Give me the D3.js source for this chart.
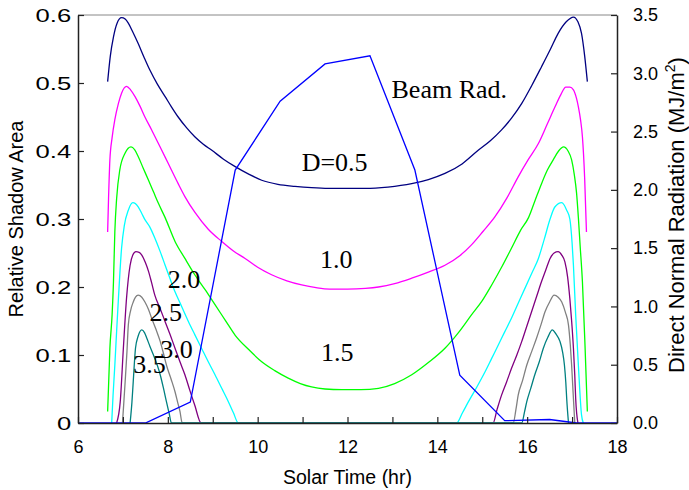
<!DOCTYPE html>
<html lang="en">
<head>
<meta charset="utf-8"/>
<title>Relative shadow area and beam radiation</title>
<script src="https://d3js.org/d3.v7.min.js"></script>
<style>
    body { margin: 0; background: #fff; }
    .tick text { font-family: "Liberation Sans", Arial, sans-serif; font-size: 18px; fill: #000; }
    .axis-title { font-family: "Liberation Sans", Arial, sans-serif; fill: #000; }
    .note { font-family: "Liberation Serif", "Times New Roman", serif; font-size: 26px; fill: #000; }
</style>
</head>
<body>
<script>

// relative shadow area, [solar time (hr), area], one array per spacing D
var d05 = [[6.66,0.502],[6.72,0.540],[6.79,0.568],[6.87,0.588],[6.97,0.596],[7.05,0.594],[7.12,0.588],[7.22,0.575],[7.34,0.558],[7.47,0.538],[7.60,0.519],[7.77,0.498],[7.94,0.480],[8.08,0.465],[8.23,0.450],[8.42,0.434],[8.60,0.421],[8.79,0.410],[8.98,0.401],[9.24,0.388],[9.50,0.377],[9.80,0.366],[10.09,0.357],[10.45,0.351],[10.83,0.348],[11.2,0.346],[11.57,0.345],[12.0,0.345],[12.4,0.345],[12.9,0.347],[13.43,0.352],[13.8,0.358],[14.17,0.367],[14.55,0.381],[14.91,0.401],[15.18,0.415],[15.43,0.431],[15.66,0.449],[15.88,0.470],[16.1,0.496],[16.32,0.524],[16.52,0.550],[16.69,0.573],[16.87,0.590],[17.03,0.597],[17.13,0.590],[17.21,0.573],[17.28,0.540],[17.34,0.502]];
var d10 = [[6.66,0.281],[6.68,0.330],[6.71,0.387],[6.76,0.420],[6.82,0.446],[6.90,0.470],[6.97,0.485],[7.08,0.495],[7.17,0.490],[7.27,0.480],[7.38,0.466],[7.49,0.450],[7.64,0.431],[7.79,0.411],[7.94,0.391],[8.08,0.372],[8.23,0.352],[8.38,0.333],[8.60,0.310],[8.90,0.285],[9.20,0.267],[9.46,0.253],[9.72,0.242],[10.0,0.229],[10.31,0.218],[10.65,0.209],[10.98,0.203],[11.3,0.199],[11.6,0.197],[12.0,0.197],[12.4,0.198],[12.69,0.200],[13.05,0.205],[13.43,0.213],[13.8,0.222],[14.17,0.232],[14.5,0.246],[14.76,0.262],[15.02,0.282],[15.28,0.303],[15.55,0.331],[15.80,0.362],[16.03,0.388],[16.25,0.411],[16.45,0.440],[16.62,0.465],[16.75,0.483],[16.86,0.494],[16.95,0.494],[17.03,0.490],[17.10,0.477],[17.14,0.465],[17.19,0.445],[17.23,0.421],[17.28,0.360],[17.32,0.281]];
var d15 = [[6.66,0.017],[6.71,0.110],[6.76,0.160],[6.79,0.208],[6.82,0.281],[6.86,0.330],[6.93,0.372],[7.05,0.397],[7.18,0.406],[7.26,0.402],[7.34,0.392],[7.45,0.375],[7.57,0.357],[7.68,0.340],[7.79,0.323],[7.94,0.302],[8.16,0.267],[8.38,0.242],[8.60,0.218],[8.83,0.196],[9.05,0.174],[9.28,0.151],[9.50,0.129],[9.80,0.108],[10.09,0.090],[10.38,0.077],[10.68,0.066],[10.95,0.058],[11.20,0.053],[11.5,0.050],[11.87,0.049],[12.3,0.049],[12.69,0.051],[13.05,0.058],[13.43,0.071],[13.8,0.089],[14.17,0.110],[14.47,0.133],[14.76,0.159],[15.0,0.180],[15.21,0.203],[15.43,0.229],[15.65,0.257],[15.85,0.283],[16.03,0.302],[16.18,0.328],[16.32,0.352],[16.45,0.372],[16.58,0.387],[16.70,0.400],[16.81,0.406],[16.91,0.400],[16.99,0.387],[17.05,0.365],[17.10,0.338],[17.14,0.302],[17.18,0.260],[17.23,0.208],[17.29,0.110],[17.34,0.017]];
var d20 = [[6.75,0.0],[6.78,0.040],[6.82,0.085],[6.86,0.135],[6.90,0.183],[6.97,0.257],[7.03,0.290],[7.12,0.313],[7.22,0.324],[7.34,0.318],[7.42,0.308],[7.49,0.299],[7.60,0.288],[7.71,0.272],[7.83,0.252],[7.94,0.232],[8.05,0.212],[8.16,0.193],[8.31,0.171],[8.46,0.149],[8.60,0.130],[8.75,0.110],[8.90,0.090],[9.05,0.071],[9.20,0.051],[9.35,0.031],[9.46,0.015],[9.57,0.0],[14.43,0.0],[14.56,0.015],[14.69,0.031],[14.88,0.053],[15.06,0.075],[15.21,0.095],[15.36,0.115],[15.50,0.134],[15.65,0.154],[15.80,0.176],[15.95,0.198],[16.10,0.220],[16.25,0.242],[16.38,0.270],[16.51,0.300],[16.62,0.318],[16.77,0.324],[16.88,0.313],[16.95,0.300],[17.00,0.265],[17.03,0.232],[17.08,0.159],[17.14,0.085],[17.21,0.012],[17.25,0.0]];
var d25 = [[6.86,0.0],[6.94,0.031],[7.01,0.110],[7.08,0.183],[7.16,0.232],[7.22,0.247],[7.29,0.252],[7.36,0.251],[7.42,0.247],[7.50,0.236],[7.57,0.223],[7.64,0.206],[7.71,0.188],[7.83,0.168],[7.94,0.149],[8.05,0.130],[8.16,0.110],[8.27,0.090],[8.38,0.071],[8.49,0.048],[8.60,0.026],[8.74,0.0],[15.24,0.0],[15.33,0.020],[15.43,0.041],[15.54,0.060],[15.65,0.080],[15.77,0.100],[15.88,0.120],[15.99,0.142],[16.10,0.164],[16.21,0.186],[16.32,0.208],[16.42,0.226],[16.51,0.242],[16.60,0.250],[16.69,0.252],[16.77,0.247],[16.84,0.237],[16.90,0.215],[16.95,0.183],[16.99,0.150],[17.03,0.110],[17.06,0.070],[17.08,0.036],[17.13,0.0]];
var d30 = [[6.99,0.0],[7.02,0.030],[7.05,0.061],[7.09,0.105],[7.12,0.144],[7.17,0.165],[7.23,0.178],[7.28,0.185],[7.34,0.188],[7.42,0.185],[7.49,0.178],[7.57,0.167],[7.64,0.154],[7.74,0.137],[7.83,0.120],[7.90,0.103],[7.97,0.085],[8.07,0.065],[8.16,0.046],[8.22,0.030],[8.27,0.017],[8.32,0.0],[15.69,0.0],[15.75,0.020],[15.80,0.041],[15.90,0.063],[15.99,0.085],[16.10,0.105],[16.21,0.125],[16.31,0.145],[16.40,0.164],[16.50,0.178],[16.60,0.188],[16.69,0.185],[16.77,0.178],[16.85,0.163],[16.92,0.144],[16.96,0.115],[16.99,0.085],[17.02,0.048],[17.05,0.012],[17.06,0.0]];
var d35 = [[7.16,0.0],[7.20,0.030],[7.23,0.061],[7.28,0.110],[7.34,0.128],[7.42,0.137],[7.48,0.133],[7.53,0.125],[7.60,0.113],[7.68,0.100],[7.76,0.086],[7.83,0.071],[7.90,0.052],[7.97,0.031],[8.03,0.014],[8.08,0.0],[15.88,0.0],[15.94,0.016],[15.99,0.031],[16.08,0.051],[16.17,0.071],[16.27,0.090],[16.36,0.110],[16.46,0.126],[16.56,0.137],[16.64,0.131],[16.73,0.120],[16.79,0.104],[16.83,0.085],[16.86,0.060],[16.88,0.036],[16.92,0.0]];

// direct normal (beam) radiation, MJ/m2, right axis
var beamHr  = [6, 7.5, 8.5, 9.5, 10.5, 11.5, 12.5, 13.5, 14.5, 15.5, 16.5, 17.1, 18];
var beamVal = [0, 0, 0.18, 2.17, 2.76, 3.08, 3.15, 2.17, 0.41, 0.02, 0.03, 0, 0];

var seriesNames = ["D=0.5", "1.0", "1.5", "2.0", "2.5", "3.0", "3.5"];
var seriesData = [d05, d10, d15, d20, d25, d30, d35];
var seriesColors = ["#000080", "#ff00ff", "#00ff00", "#00ffff", "#800080", "#808080", "#008080"];

// label anchors in data units [hr, area]
var labelPos = [[10.98, 0.371], [11.39, 0.228], [11.41, 0.091], [8.0, 0.199], [7.59, 0.150], [7.83, 0.096], [7.23, 0.073]];

var width = 689, height = 490;
var plotL = 78, plotR = 617, plotT = 15, plotB = 423;

var svg = d3.select("body").append("svg")
    .attr("width", width)
    .attr("height", height);

var x = d3.scaleLinear().domain([6, 18]).range([plotL, plotR]);
var yL = d3.scaleLinear().domain([0, 0.6]).range([plotB, plotT]);
var yR = d3.scaleLinear().domain([0, 3.5]).range([plotB, plotT]);

// frame top
svg.append("line")
    .attr("x1", plotL).attr("x2", plotR)
    .attr("y1", plotT).attr("y2", plotT)
    .attr("stroke", "#888").attr("stroke-width", 1);

var line = d3.line()
    .x(function(d){ return x(d[0]); })
    .y(function(d){ return yL(d[1]); })
    .curve(d3.curveMonotoneX);

svg.append("g").selectAll("path")
    .data(seriesData)
    .enter()
    .append("path")
    .attr("d", line)
    .attr("fill", "none")
    .attr("stroke", function(d, i){ return seriesColors[i]; })
    .attr("stroke-width", 1.3);

var beam = d3.zip(beamHr, beamVal);
svg.append("path")
    .datum(beam)
    .attr("d", d3.line().x(function(d){ return x(d[0]); }).y(function(d){ return yR(d[1]); }))
    .attr("fill", "none")
    .attr("stroke", "#0000ff")
    .attr("stroke-width", 1.3);

// axes, ticks pointing inward
var xAxis = d3.axisBottom(x)
    .ticks(12)
    .tickSizeInner(-6).tickSizeOuter(0).tickPadding(17)
    .tickFormat(function(d){ return d % 2 === 0 ? d : ""; });
var gx = svg.append("g").attr("transform", "translate(0," + plotB + ")").call(xAxis);

var leftAxis = d3.axisLeft(yL)
    .tickValues([0, 0.1, 0.2, 0.3, 0.4, 0.5, 0.6])
    .tickSizeInner(-6).tickSizeOuter(0).tickPadding(5)
    .tickFormat(function(d){ return d === 0 ? "0" : d3.format(".1f")(d); });
var gl = svg.append("g").attr("transform", "translate(" + plotL + ",0)").call(leftAxis);
// left labels are drawn wider in the original
gl.selectAll(".tick text")
    .style("font-size", "19px")
    .attr("transform", "scale(1.35,1)");

var rightAxis = d3.axisRight(yR)
    .ticks(7)
    .tickSizeInner(-6).tickSizeOuter(0).tickPadding(16)
    .tickFormat(d3.format(".1f"));
var gr = svg.append("g").attr("transform", "translate(" + plotR + ",0)").call(rightAxis);

[gx, gl, gr].forEach(function(g){
    g.select(".domain").attr("stroke", "#222").attr("stroke-width", 1.5);
    g.selectAll(".tick line").attr("stroke", "#222").attr("stroke-width", 1.2);
});

// axis titles
svg.append("text")
    .attr("class", "axis-title")
    .attr("x", (plotL + plotR) / 2)
    .attr("y", 484)
    .attr("text-anchor", "middle")
    .style("font-size", "19.5px")
    .text("Solar Time (hr)");

svg.append("text")
    .attr("class", "axis-title")
    .attr("transform", "translate(23," + (plotT + plotB) / 2 + ") rotate(-90)")
    .attr("text-anchor", "middle")
    .style("font-size", "20px")
    .text("Relative Shadow Area");

var rt = svg.append("text")
    .attr("class", "axis-title")
    .attr("transform", "translate(684," + ((plotT + plotB) / 2 - 4) + ") rotate(-90)")
    .attr("text-anchor", "middle")
    .style("font-size", "22px");
rt.append("tspan").text("Direct Normal Radiation (MJ/m");
rt.append("tspan").attr("dy", -9).style("font-size", "14px").text("2");
rt.append("tspan").attr("dy", 9).text(")");

// curve labels
svg.append("g").selectAll("text")
    .data(seriesNames)
    .enter()
    .append("text")
    .attr("class", "note")
    .attr("x", function(d, i){ return x(labelPos[i][0]); })
    .attr("y", function(d, i){ return yL(labelPos[i][1]); })
    .text(function(d){ return d; });

svg.append("text")
    .attr("class", "note")
    .attr("x", x(12.98))
    .attr("y", yR(2.79))
    .text("Beam Rad.");

</script>
</body>
</html>
